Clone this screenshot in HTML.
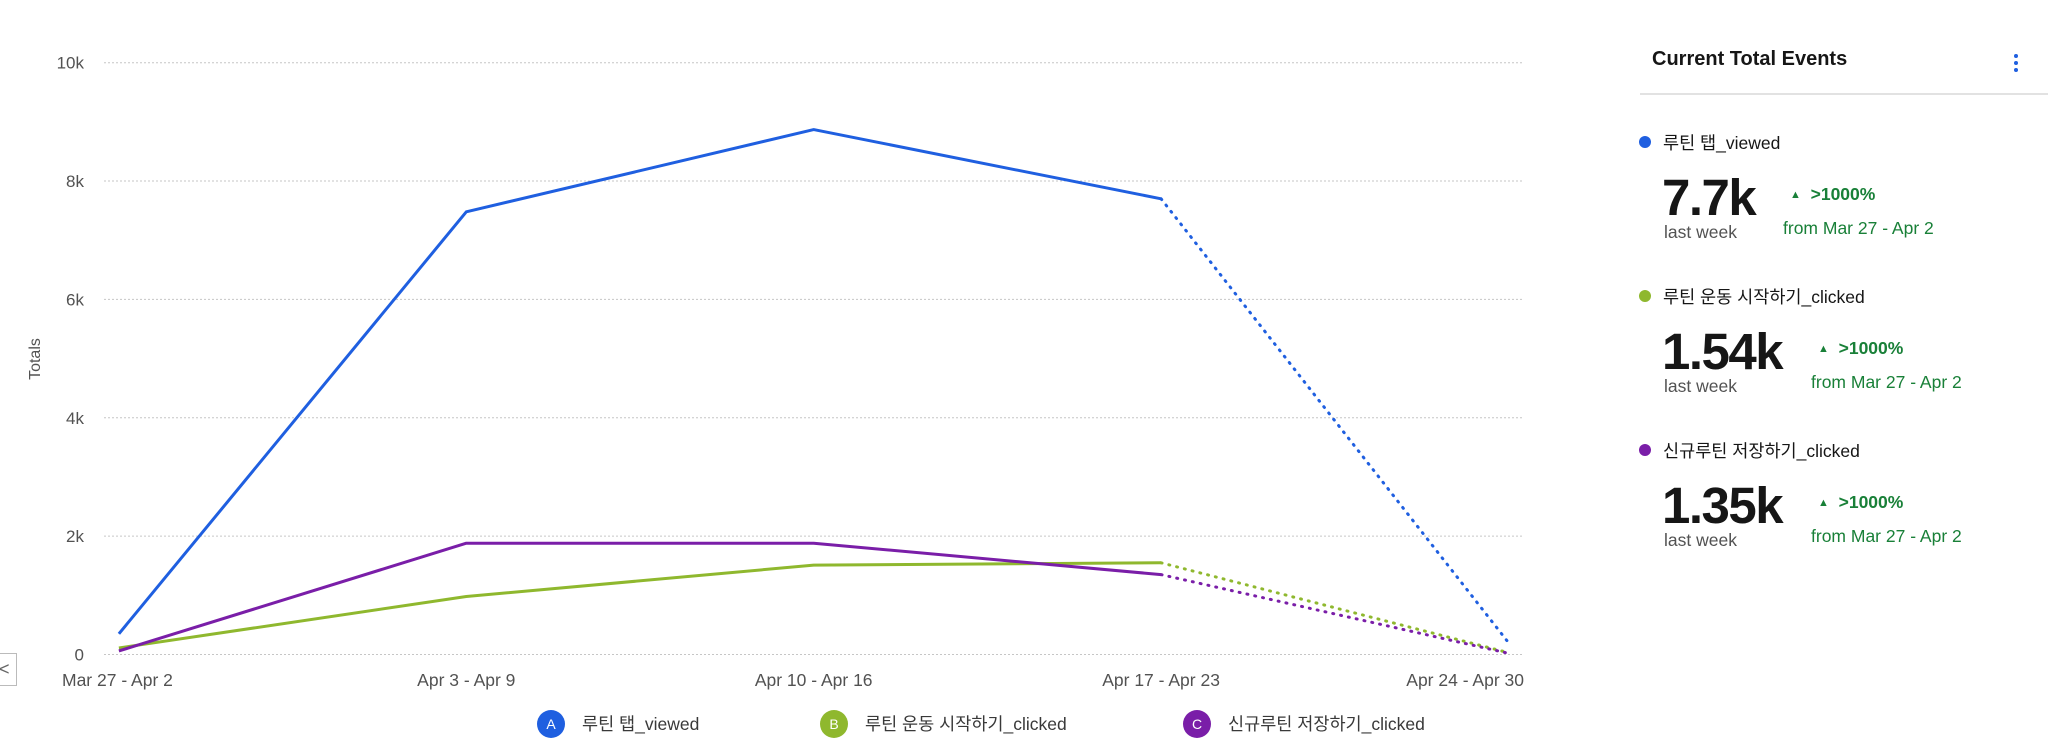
<!DOCTYPE html>
<html><head><meta charset="utf-8">
<style>
body{margin:0;width:2048px;height:756px;background:#fff;overflow:hidden;font-family:"Liberation Sans","Noto Sans CJK KR",sans-serif;position:relative}
.t{position:absolute;white-space:nowrap}
</style></head><body>
<svg id="chart" width="1600" height="756" style="position:absolute;left:0;top:0"></svg>
<div class="t" style="left:-2px;top:653px;width:17px;height:31px;border:1px solid #bbb;color:#666;font-size:18px;line-height:31px">&lt;</div>
<div>
<div class="t" style="left:1652px;top:48px;font-size:20px;font-weight:bold;color:#161616">Current Total Events</div>
<div class="t" style="left:2014px;top:54px;width:6px">
<div style="width:4px;height:4px;border-radius:2px;background:#1f5fe0;margin-bottom:3px"></div><div style="width:4px;height:4px;border-radius:2px;background:#1f5fe0;margin-bottom:3px"></div><div style="width:4px;height:4px;border-radius:2px;background:#1f5fe0"></div></div>
<div style="position:absolute;left:1640px;top:93px;width:408px;height:2px;background:#e2e2e2"></div>
<div id="items"></div>
</div>
<script>
const categories=["Mar 27 - Apr 2","Apr 3 - Apr 9","Apr 10 - Apr 16","Apr 17 - Apr 23","Apr 24 - Apr 30"];
const seriesA=[350,7480,8870,7700,200];
const seriesB=[110,980,1510,1550,30];
const seriesC=[60,1880,1880,1350,20];
const yTicks=[0,2000,4000,6000,8000,10000];
const yTickLabels=["0","2k","4k","6k","8k","10k"];
const seriesNames=["루틴 탭_viewed","루틴 운동 시작하기_clicked","신규루틴 저장하기_clicked"];
const seriesLetters=["A","B","C"];
const totals=["7.7k","1.54k","1.35k"];
const colors=["#1f5fe0","#8fb82e","#7a1ea8"];
const NS="http://www.w3.org/2000/svg";
const svg=document.getElementById('chart');
const x=i=>118.9+i*(1508.5-118.9)/(categories.length-1);
const y=v=>654.5-v/10000*(654.5-62.7);
function mk(tag,attrs,parent){const e=document.createElementNS(NS,tag);for(const k in attrs)e.setAttribute(k,attrs[k]);(parent||svg).appendChild(e);return e;}
yTicks.forEach((v,i)=>{
 const g=mk('line',{x1:104,x2:1524,y1:y(v),y2:y(v),stroke:'#c6c6c6','stroke-dasharray':'2 2','stroke-width':1});
 
 
 const t=mk('text',{x:84,y:y(v)+6,'text-anchor':'end','font-size':17,fill:'#525252'});
 t.textContent=yTickLabels[i];
 
 
});
categories.forEach((c,i)=>{
 const anchor=i==0?'start':(i==categories.length-1?'end':'middle');
 const xx=i==0?62:(i==categories.length-1?1524:x(i));
 const t=mk('text',{x:xx,y:686,'text-anchor':anchor,'font-size':17.5,fill:'#525252'});
 t.textContent=c;
 
 
});
const yt=mk('text',{x:40,y:359,'text-anchor':'middle','font-size':16,fill:'#525252',transform:'rotate(-90 40 359)'});
yt.textContent='Totals';


[seriesA,seriesB,seriesC].forEach((s,k)=>{
 const n=s.length;
 const pts=s.slice(0,n-1).map((v,i)=>x(i)+','+y(v)).join(' ');
 const p=mk('polyline',{points:pts,fill:'none',stroke:colors[k],'stroke-width':3,'stroke-linejoin':'round'});
 
 
 const d=mk('line',{x1:x(n-2),y1:y(s[n-2]),x2:x(n-1),y2:y(s[n-1]),stroke:colors[k],'stroke-width':3,'stroke-dasharray':'1 7','stroke-linecap':'round'});
 
 
});
const legX=[551,834,1197];
seriesNames.forEach((nm,k)=>{
 const c=mk('circle',{cx:legX[k],cy:724,r:14,fill:colors[k]});
 
 
 const l=mk('text',{x:legX[k],y:729,'text-anchor':'middle','font-size':14,fill:'#fff'});
 l.textContent=seriesLetters[k];
 
 
 const t=mk('text',{x:legX[k]+31,y:730,'font-size':17.5,fill:'#393939'});
 t.textContent=nm;
 
 
});
const items=document.getElementById('items');
const tops=[130,284,438];
const pctX=[1790,1818,1818];
seriesNames.forEach((nm,k)=>{
 const T=tops[k];
 items.insertAdjacentHTML('beforeend',
 `<div class="t" style="left:1639px;top:${T+6}px;width:12px;height:12px;border-radius:6px;background:${colors[k]}"></div>`+
 `<div class="t" style="left:1663px;top:${T}px;font-size:17.5px;color:#161616">${nm}</div>`+
 `<div class="t" style="left:1662px;top:${T+38}px;font-size:51px;font-weight:bold;color:#161616;letter-spacing:-1.5px">${totals[k]}</div>`+
 `<div class="t" style="left:1664px;top:${T+92}px;font-size:17.5px;color:#525252">last week</div>`+
 `<div class="t" style="left:${pctX[k]}px;top:${T+54}px;font-size:17.5px;font-weight:bold;color:#198038"><span style="font-size:11px;vertical-align:2px">▲</span>&nbsp;&nbsp;&gt;1000%</div>`+
 `<div class="t" style="left:${pctX[k]-7}px;top:${T+88}px;font-size:17.5px;color:#198038">from Mar 27 - Apr 2</div>`);
});
</script>
</body></html>
